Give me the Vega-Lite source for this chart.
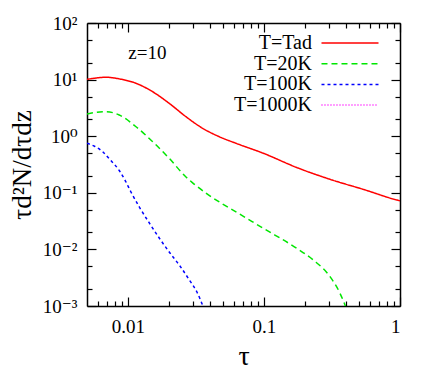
{
  "$schema": "https://vega.github.io/schema/vega-lite/v6.json",
  "width": 313,
  "height": 283,
  "autosize": {"type": "none"},
  "padding": {"left": 87, "top": 23, "right": 36, "bottom": 65},
  "background": "white",
  "config": {
    "view": {"stroke": null},
    "font": "'Liberation Serif', 'Times New Roman', Times, 'DejaVu Serif', serif",
    "axis": {
      "grid": false,
      "domainColor": "black",
      "domainWidth": 1.5,
      "tickColor": "black",
      "tickWidth": 1.2,
      "labelColor": "black",
      "labelFont": "'Liberation Serif', 'Times New Roman', Times, 'DejaVu Serif', serif",
      "labelFontSize": 19,
      "titleFont": "'Liberation Serif', 'Times New Roman', Times, 'DejaVu Serif', serif",
      "titleFontWeight": "normal",
      "titleColor": "black"
    },
    "legend": {
      "labelFont": "'Liberation Serif', 'Times New Roman', Times, 'DejaVu Serif', serif"
    }
  },
  "data": {
    "values": [
      {"series": "T=Tad", "tau": 0.005, "val": 10.1},
      {"series": "T=Tad", "tau": 0.0059, "val": 10.7},
      {"series": "T=Tad", "tau": 0.00689, "val": 11.0},
      {"series": "T=Tad", "tau": 0.00863, "val": 10.3},
      {"series": "T=Tad", "tau": 0.01146, "val": 8.6},
      {"series": "T=Tad", "tau": 0.0152, "val": 6.1},
      {"series": "T=Tad", "tau": 0.0201, "val": 3.81},
      {"series": "T=Tad", "tau": 0.0267, "val": 2.21},
      {"series": "T=Tad", "tau": 0.0354, "val": 1.38},
      {"series": "T=Tad", "tau": 0.0469, "val": 0.98},
      {"series": "T=Tad", "tau": 0.0622, "val": 0.75},
      {"series": "T=Tad", "tau": 0.0988, "val": 0.5},
      {"series": "T=Tad", "tau": 0.174, "val": 0.28},
      {"series": "T=Tad", "tau": 0.306, "val": 0.173},
      {"series": "T=Tad", "tau": 0.537, "val": 0.115},
      {"series": "T=Tad", "tau": 0.946, "val": 0.0746},
      {"series": "T=Tad", "tau": 1.0, "val": 0.072},
      {"series": "T=20K", "tau": 0.005, "val": 2.47},
      {"series": "T=20K", "tau": 0.0059, "val": 2.65},
      {"series": "T=20K", "tau": 0.00689, "val": 2.71},
      {"series": "T=20K", "tau": 0.00863, "val": 2.37},
      {"series": "T=20K", "tau": 0.01146, "val": 1.47},
      {"series": "T=20K", "tau": 0.0152, "val": 0.8},
      {"series": "T=20K", "tau": 0.0201, "val": 0.407},
      {"series": "T=20K", "tau": 0.0267, "val": 0.19},
      {"series": "T=20K", "tau": 0.0299, "val": 0.15},
      {"series": "T=20K", "tau": 0.0488, "val": 0.065},
      {"series": "T=20K", "tau": 0.0562, "val": 0.0532},
      {"series": "T=20K", "tau": 0.0988, "val": 0.0236},
      {"series": "T=20K", "tau": 0.174, "val": 0.01045},
      {"series": "T=20K", "tau": 0.2304, "val": 0.0065},
      {"series": "T=20K", "tau": 0.306, "val": 0.0033},
      {"series": "T=20K", "tau": 0.362, "val": 0.00168},
      {"series": "T=20K", "tau": 0.394, "val": 0.00104},
      {"series": "T=20K", "tau": 0.41, "val": 0.0008},
      {"series": "T=100K", "tau": 0.005, "val": 0.75},
      {"series": "T=100K", "tau": 0.00572, "val": 0.658},
      {"series": "T=100K", "tau": 0.00652, "val": 0.532},
      {"series": "T=100K", "tau": 0.00737, "val": 0.387},
      {"series": "T=100K", "tau": 0.00863, "val": 0.248},
      {"series": "T=100K", "tau": 0.00951, "val": 0.168},
      {"series": "T=100K", "tau": 0.01052, "val": 0.1033},
      {"series": "T=100K", "tau": 0.01225, "val": 0.0538},
      {"series": "T=100K", "tau": 0.01452, "val": 0.0281},
      {"series": "T=100K", "tau": 0.01718, "val": 0.01528},
      {"series": "T=100K", "tau": 0.02037, "val": 0.00863},
      {"series": "T=100K", "tau": 0.02412, "val": 0.00509},
      {"series": "T=100K", "tau": 0.02857, "val": 0.00277},
      {"series": "T=100K", "tau": 0.03215, "val": 0.00177},
      {"series": "T=100K", "tau": 0.03559, "val": 0.001},
      {"series": "T=100K", "tau": 0.037, "val": 0.0008}
    ]
  },
  "resolve": {"axis": {"x": "independent", "y": "independent"}},
  "layer": [
    {
      "mark": {"type": "line", "clip": true, "strokeWidth": 1.5, "interpolate": "monotone"},
      "encoding": {
        "x": {
          "field": "tau", "type": "quantitative",
          "scale": {"type": "log", "domain": [0.005, 1], "nice": false},
          "axis": {
            "orient": "bottom", "values": [0.01, 0.1, 1], "tickSize": -9, "labelPadding": 20,
            "labelExpr": "datum.value > 0.5 ? '1' : datum.value > 0.05 ? '0.1' : '0.01'",
            "title": "τ", "titleFontSize": 28, "titlePadding": 6
          }
        },
        "y": {
          "field": "val", "type": "quantitative",
          "scale": {"type": "log", "domain": [0.001, 100], "nice": false},
          "axis": {
            "orient": "left", "values": [0.001, 0.01, 0.1, 1, 10, 100], "tickSize": -9, "labelPadding": 19,
            "labelExpr": "datum.value > 50 ? '10²' : datum.value > 5 ? '10¹' : datum.value > 0.5 ? '10⁰' : datum.value > 0.05 ? '10⁻¹' : datum.value > 0.005 ? '10⁻²' : '10⁻³'",
            "title": "τd²N/dτdz", "titleFontSize": 27, "titlePadding": 6
          }
        },
        "color": {
          "field": "series", "type": "nominal",
          "scale": {"domain": ["T=Tad", "T=20K", "T=100K", "T=1000K"], "range": ["#ff0000", "#00e600", "#0000ff", "#ff00ff"]},
          "legend": {
            "orient": "none", "legendX": 253, "legendY": 10, "title": null,
            "labelAlign": "right", "labelOffset": -48, "symbolSize": 130, "symbolStrokeWidth": 1.5,
            "symbolType": "M-5,0H5", "rowPadding": 0.7, "labelFontSize": 20,
            "labelColor": "black", "padding": 0, "labelLimit": 300
          }
        },
        "strokeDash": {
          "field": "series", "type": "nominal",
          "scale": {"domain": ["T=Tad", "T=20K", "T=100K", "T=1000K"], "range": [[1, 0], [6, 4], [3, 3], [1, 2]]},
          "legend": {
            "orient": "none", "legendX": 253, "legendY": 10, "title": null,
            "labelAlign": "right", "labelOffset": -48, "symbolSize": 130, "symbolStrokeWidth": 1.5,
            "symbolType": "M-5,0H5", "rowPadding": 0.7, "labelFontSize": 20,
            "labelColor": "black", "padding": 0, "labelLimit": 300
          }
        }
      }
    },
    {
      "mark": {"type": "point", "opacity": 0},
      "encoding": {
        "x": {"field": "tau", "type": "quantitative",
          "axis": {"orient": "bottom", "values": [0.006, 0.007, 0.008, 0.009, 0.02, 0.03, 0.04, 0.05, 0.06, 0.07, 0.08, 0.09, 0.2, 0.3, 0.4, 0.5, 0.6, 0.7, 0.8, 0.9], "tickSize": -5, "labels": false, "domain": false, "title": null}},
        "y": {"field": "val", "type": "quantitative",
          "axis": {"orient": "left", "values": [0.002, 0.005, 0.02, 0.05, 0.2, 0.5, 2, 5, 20, 50], "tickSize": -5, "labels": false, "domain": false, "title": null}}
      }
    },
    {
      "mark": {"type": "point", "opacity": 0},
      "encoding": {
        "x": {"field": "tau", "type": "quantitative",
          "axis": {"orient": "top", "values": [0.01, 0.1, 1], "tickSize": -9, "labels": false, "title": null}},
        "y": {"field": "val", "type": "quantitative",
          "axis": {"orient": "right", "values": [0.001, 0.01, 0.1, 1, 10, 100], "tickSize": -9, "labels": false, "title": null}}
      }
    },
    {
      "mark": {"type": "point", "opacity": 0},
      "encoding": {
        "x": {"field": "tau", "type": "quantitative",
          "axis": {"orient": "top", "values": [0.006, 0.007, 0.008, 0.009, 0.02, 0.03, 0.04, 0.05, 0.06, 0.07, 0.08, 0.09, 0.2, 0.3, 0.4, 0.5, 0.6, 0.7, 0.8, 0.9], "tickSize": -5, "labels": false, "domain": false, "title": null}},
        "y": {"field": "val", "type": "quantitative",
          "axis": {"orient": "right", "values": [0.002, 0.005, 0.02, 0.05, 0.2, 0.5, 2, 5, 20, 50], "tickSize": -5, "labels": false, "domain": false, "title": null}}
      }
    },
    {
      "data": {"values": [{"label": "z=10"}]},
      "mark": {"type": "text", "fontSize": 19, "color": "black", "align": "center", "baseline": "middle"},
      "encoding": {
        "x": {"datum": 0.0139, "type": "quantitative", "axis": null},
        "y": {"datum": 29.5, "type": "quantitative", "axis": null},
        "text": {"field": "label"}
      }
    }
  ]
}
